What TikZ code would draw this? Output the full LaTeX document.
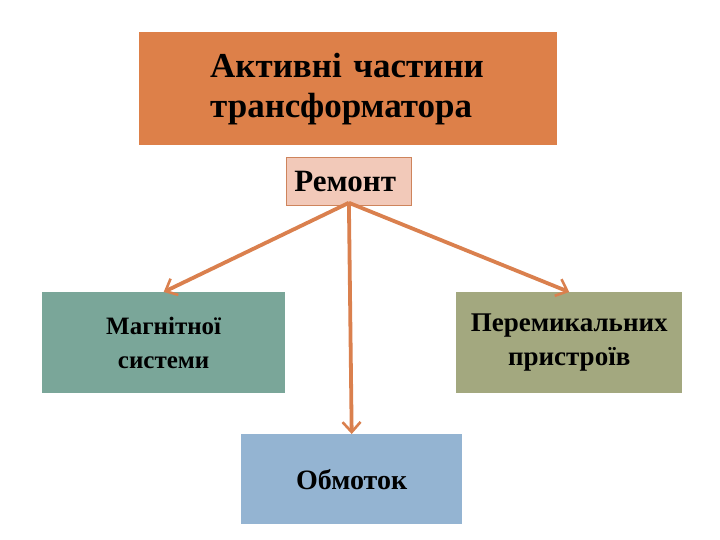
\documentclass[tikz,border=0pt]{standalone}
\usepackage{fontspec}
\setmainfont{Liberation Serif}
\usetikzlibrary{arrows.meta,positioning}
\definecolor{titleorange}{RGB}{221,128,73}
\definecolor{repairpink}{RGB}{242,201,185}
\definecolor{repairedge}{RGB}{206,132,92}
\definecolor{magteal}{RGB}{122,166,153}
\definecolor{switcholive}{RGB}{163,168,127}
\definecolor{windblue}{RGB}{148,180,210}
\definecolor{arroworange}{RGB}{218,128,78}

\begin{document}
\begin{tikzpicture}[x=1pt, y=-1pt, font=\bfseries,
  part/.style={anchor=north west, inner sep=0pt, align=center, text=black},
  link/.style={-{Straight Barb[length=10pt,width=18pt,line width=2.6pt]}, line width=3.8pt, arroworange}]
  \useasboundingbox (0,0) rectangle (720,540);
  % header block and the repair label under it
  \node[part, fill=titleorange, minimum width=418, minimum height=113, text width=276, align=left,
        inner xsep=71, font=\bfseries\fontsize{35}{40}\selectfont] (title) at (139,32)
    {\mbox{Активні частини}\\трансформатора};
  \node[part, fill=repairpink, draw=repairedge, line width=0.8pt, minimum width=125, minimum height=48,
        text width=109, inner xsep=8, align=left, font=\bfseries\fontsize{31}{34}\selectfont] (rem) at (286,157) {Ремонт};
  % the three parts being repaired
  \node[part, fill=magteal, minimum width=243, minimum height=101,
        font=\bfseries\fontsize{25}{34}\selectfont] (mag) at (42,292) {Магнітної\\системи};
  \node[part, fill=switcholive, minimum width=226, minimum height=101,
        font=\bfseries\fontsize{27}{34}\selectfont] (sw) at (456,292) {Перемикальних\\пристроїв};
  \node[part, fill=windblue, minimum width=221, minimum height=90,
        font=\bfseries\fontsize{28}{34}\selectfont] (wind) at (241,434) {Обмоток};
  % arrows fanning out from the label
  \coordinate (hub) at ([yshift=3pt]rem.south);
  \draw[link] (hub) -- (mag.north);
  \draw[link] (hub) -- (wind.north);
  \draw[link] (hub) -- (sw.north);
\end{tikzpicture}
\end{document}
